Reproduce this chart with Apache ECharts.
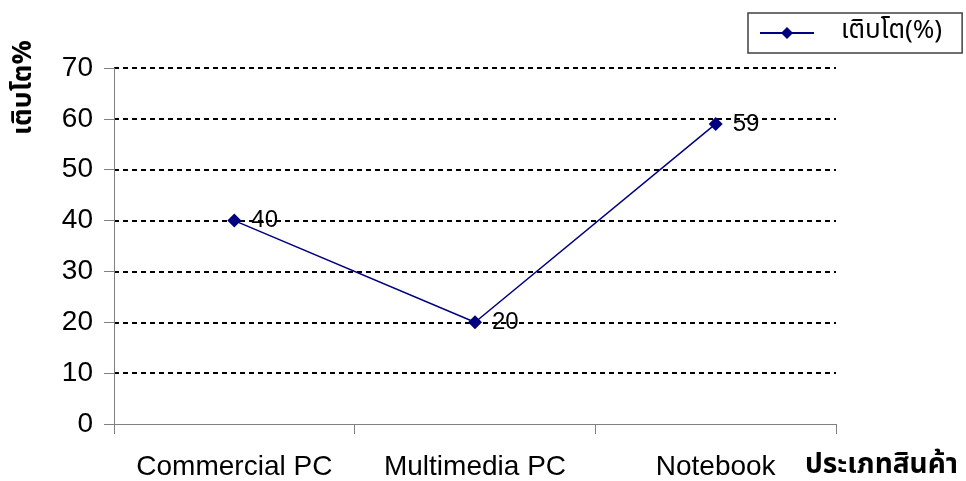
<!DOCTYPE html>
<html>
<head>
<meta charset="utf-8">
<script src="https://cdn.jsdelivr.net/npm/echarts@6/dist/echarts.min.js"></script>
<style>
  html, body { margin: 0; padding: 0; background: #fff; }
  #chart { width: 966px; height: 481px; }
</style>
</head>
<body>
<div id="chart"></div>
<script>
// Product categories and their growth (%)
const categories = ['Commercial PC', 'Multimedia PC', 'Notebook'];
const growth = [40, 20, 59];
const yTicks = { min: 0, max: 70, step: 10 };
const seriesName = 'เติบโต(%)';
const xTitle = 'ประเภทสินค้า';
const yTitle = 'เติบโต%';

const latin = 'Arial, "Liberation Sans", sans-serif';
const thai = 'Tahoma, "Noto Sans Thai", "Noto Sans", "DejaVu Sans", sans-serif';

const chart = echarts.init(document.getElementById('chart'), null, { renderer: 'canvas' });

chart.setOption({
  animation: false,
  backgroundColor: '#ffffff',
  grid: { left: 114, right: 130, top: 68, bottom: 57, containLabel: false },
  legend: {
    data: [seriesName],
    left: 748,
    top: 13,
    padding: [7, 20, 7, 11],
    borderColor: '#404040',
    borderWidth: 1.5,
    itemWidth: 54,
    itemHeight: 15,
    itemGap: 10,
    textStyle: { fontFamily: thai, fontSize: 26, color: '#000', padding: [0, 0, 0, 22] }
  },
  graphic: [
    {
      type: 'text',
      x: 12, y: 135,
      rotation: Math.PI / 2,
      style: { text: yTitle, font: 'bold 27px ' + thai, fill: '#000', align: 'left', verticalAlign: 'top' }
    },
    {
      type: 'text',
      x: 805, y: 467,
      style: { text: xTitle, font: 'bold 28px ' + thai, fill: '#000', align: 'left', verticalAlign: 'middle' }
    }
  ],
  xAxis: {
    type: 'category',
    data: categories,
    boundaryGap: true,
    axisLine: { lineStyle: { color: '#808080', width: 1 } },
    axisTick: { show: true, interval: 0, length: 10, lineStyle: { color: '#808080' } },
    axisLabel: { interval: 0, margin: 29, fontFamily: latin, fontSize: 28, color: '#000' },
    splitLine: { show: false }
  },
  yAxis: {
    type: 'value',
    min: yTicks.min,
    max: yTicks.max,
    interval: yTicks.step,
    axisLine: { show: true, lineStyle: { color: '#808080', width: 1 } },
    axisTick: { show: true, length: 10, lineStyle: { color: '#808080' } },
    axisLabel: { margin: 21, fontFamily: latin, fontSize: 28, color: '#000' },
    splitLine: { show: true, showMinLine: false, lineStyle: { color: '#000', type: [5, 4], width: 2 } }
  },
  series: [{
    name: seriesName,
    type: 'line',
    data: growth,
    color: '#000080',
    lineStyle: { color: '#000080', width: 1.5 },
    symbol: 'diamond',
    symbolSize: 14,
    itemStyle: { color: '#000080' },
    label: {
      show: true,
      position: 'right',
      distance: 10,
      fontFamily: latin,
      fontSize: 24,
      color: '#000'
    },
    z: 3
  }]
});
</script>
</body>
</html>
